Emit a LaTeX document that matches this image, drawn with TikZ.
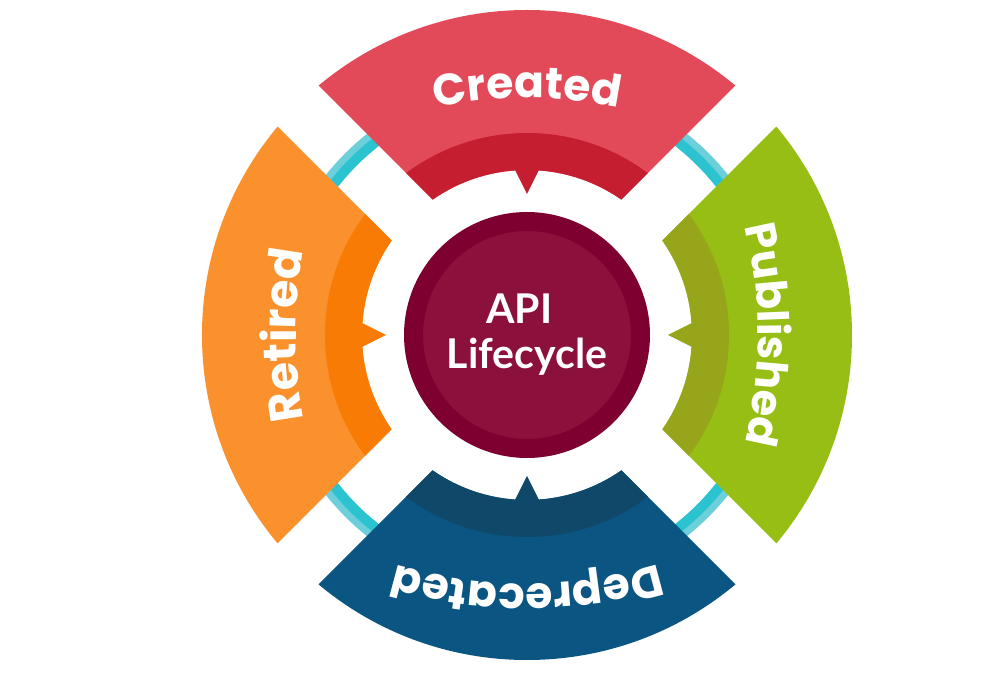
\documentclass[tikz,border=0pt]{standalone}
\usepackage{fontspec}
\usepackage{tikz}
\setmainfont{Poppins}
\newfontfamily\hubfont{Lato}
\usetikzlibrary{decorations.text}

\definecolor{crL}{HTML}{E24A5A}
\definecolor{crD}{HTML}{C41E30}
\definecolor{reL}{HTML}{FA912D}
\definecolor{reD}{HTML}{F87B05}
\definecolor{puL}{HTML}{96BE14}
\definecolor{puD}{HTML}{96A519}
\definecolor{deL}{HTML}{0A5582}
\definecolor{deD}{HTML}{0F4869}
\definecolor{hubRing}{HTML}{7D0030}
\definecolor{hubDisc}{HTML}{8C103C}
\definecolor{cyanA}{HTML}{2CC3D1}
\definecolor{cyanB}{HTML}{6CCFDA}
\newcommand{\stagefont}[1]{\fontsize{#1}{50}\selectfont\bfseries}

\begin{document}
\begin{tikzpicture}[x=1pt, y=1pt,
    word/.style 2 args={decorate, decoration={text along path, text align=center,
        text color=white, text={|\stagefont{#2}|#1}}},
    hub/.style={circle, draw=hubRing, line width=19pt, fill=hubDisc,
        minimum size=227pt, inner sep=0pt, text=white, align=center,
        font=\hubfont\bfseries\fontsize{41}{45}\selectfont}]
    \useasboundingbox[fill=white] (-527,-360) rectangle (458,335);

    % cyan ring behind the stages
    \fill[cyanB] (0,0) circle (257);
    \fill[cyanA] (0,0) circle (250);
    \fill[white] (0,0) circle (240);

    % stages: rotation/light/dark
    \foreach \rot/\lite/\dark in {0/crL/crD, 90/reL/reD, 180/deL/deD, 270/puL/puD}{
        \begin{scope}[rotate=\rot]
            \begin{scope}
                \clip (0,41) -- +(45:600) -- +(135:600) -- cycle;
                \fill[fill=\lite, even odd rule] (0,0) circle (325) circle (165);
                \fill[fill=\dark, even odd rule] (0,0) circle (202) circle (165);
            \end{scope}
            \fill[fill=\dark] (-12.5,166) -- (0,141) -- (12.5,166) -- cycle;
        \end{scope}
    }

    % stage names on flat arcs
    \path[word={Created}{44}]                (0,-213) ++(110:450) arc (110:70:450);
    \path[rotate=90, word={Retired}{46}]     (0,-219) ++(110:450) arc (110:70:450);
    \path[rotate=180, word={Deprecated}{44}] (0,-201) ++(110:450) arc (110:70:450);
    \path[rotate=270, word={Published}{43}]  (0,-219) ++(110:450) arc (110:70:450);

    \node[hub] (api) at (0,0) {API\hspace*{15pt}\\Lifecycle};
\end{tikzpicture}
\end{document}
